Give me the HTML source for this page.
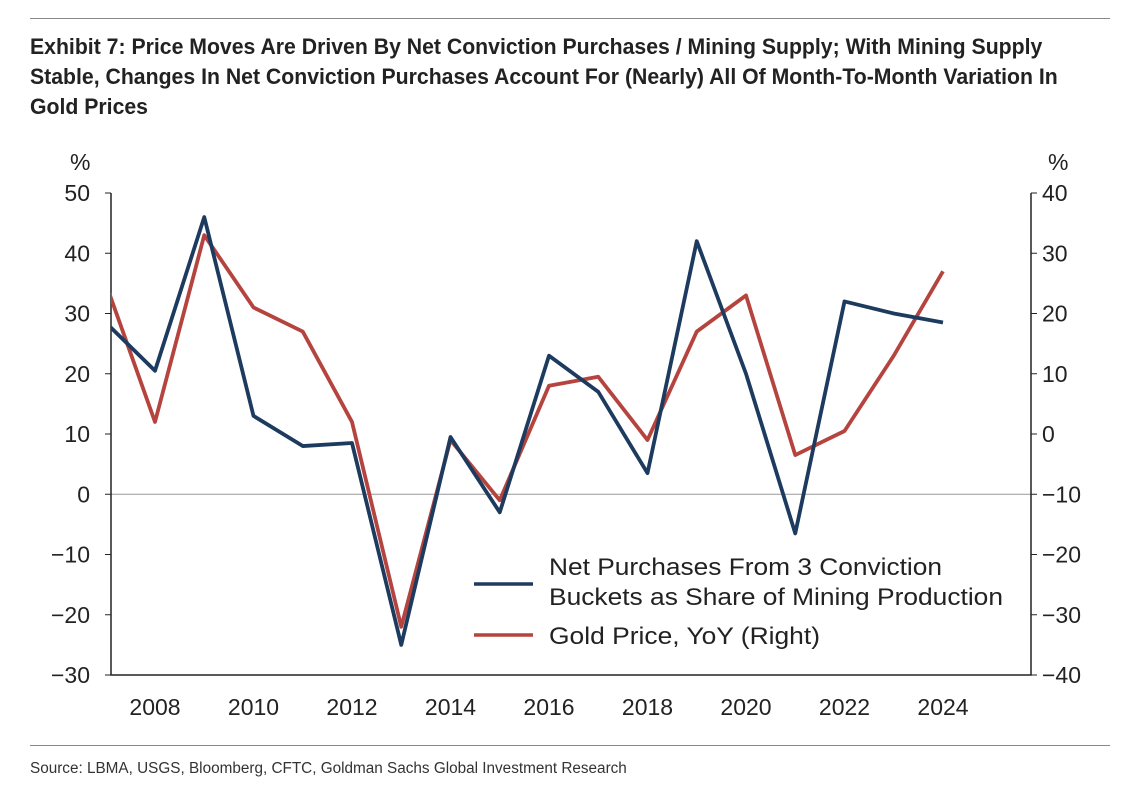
<!DOCTYPE html>
<html><head><meta charset="utf-8"><style>
body{margin:0;background:#fff;width:1138px;height:794px;overflow:hidden;font-family:"Liberation Sans",sans-serif}
#title{position:absolute;left:30px;top:32px;font-weight:bold;font-size:22px;line-height:30px;color:#222;white-space:nowrap;transform:scaleX(0.965);transform-origin:left}
#src{position:absolute;left:30px;top:760px;font-size:15.3px;color:#333;white-space:nowrap}
.rule{position:absolute;left:30px;width:1080px;height:1px;background:#888}
</style></head><body>
<div class="rule" style="top:18px"></div>
<div id="title">Exhibit 7: Price Moves Are Driven By Net Conviction Purchases / Mining Supply; With Mining Supply<br>Stable, Changes In Net Conviction Purchases Account For (Nearly) All Of Month-To-Month Variation In<br>Gold Prices</div>
<svg id="chart" width="1138" height="794" style="position:absolute;left:0;top:0"></svg>
<div class="rule" style="top:745px"></div>
<div id="src">Source: LBMA, USGS, Bloomberg, CFTC, Goldman Sachs Global Investment Research</div>
<script>
const years=[2007,2008,2009,2010,2011,2012,2013,2014,2015,2016,2017,2018,2019,2020,2021,2022,2023,2024];
const netPurchases=[28.5,20.5,46,13,8,8.5,-25,9.5,-3,23,17,3.5,42,20,-6.5,32,30,28.5];
const goldYoY=[25,2,33,21,17,2,-32,-1,-11,8,9.5,-1,17,23,-3.5,0.5,13,27];
const leftTicks=[50,40,30,20,10,0,-10,-20,-30];
const rightTicks=[40,30,20,10,0,-10,-20,-30,-40];
const xTicks=[2008,2010,2012,2014,2016,2018,2020,2022,2024];
const L=111,R=1031,T=193,B=675;
const x=y=>155+(y-2008)*49.25;
const yl=v=>T+(50-v)*(B-T)/80;
const yr=v=>T+(40-v)*(B-T)/80;
const svg=document.getElementById('chart');const NS='http://www.w3.org/2000/svg';
function el(t,a,p){const e=document.createElementNS(NS,t);for(const k in a)e.setAttribute(k,a[k]);(p||svg).appendChild(e);return e;}
const defs=el('defs',{});const cp=el('clipPath',{id:'c'},defs);el('rect',{x:L,y:0,width:R-L,height:794},cp);
let e;
e=el('line',{x1:L,x2:R,y1:yl(0),y2:yl(0),stroke:'#999','stroke-width':1});

e=el('path',{d:`M${L} ${T}V${B}H${R}V${T}`,fill:'none',stroke:'#222','stroke-width':1.5});

leftTicks.forEach(v=>{el('line',{x1:L-6,x2:L,y1:yl(v),y2:yl(v),stroke:'#222'});
 e=el('text',{x:L-21,y:yl(v)+8,'text-anchor':'end','font-size':23,fill:'#222'});e.textContent=v<0?'\u2212'+(-v):v;
 });
rightTicks.forEach(v=>{el('line',{x1:R,x2:R+6,y1:yr(v),y2:yr(v),stroke:'#222'});
 e=el('text',{x:R+11,y:yr(v)+8,'font-size':23,fill:'#222'});e.textContent=v<0?'\u2212'+(-v):v;
 });
xTicks.forEach(v=>{e=el('text',{x:x(v),y:715,'text-anchor':'middle','font-size':23,fill:'#222'});e.textContent=v;
 });
e=el('text',{x:70,y:170,'font-size':23,fill:'#222'});e.textContent='%';
e=el('text',{x:1048,y:170,'font-size':23,fill:'#222'});e.textContent='%';
e=el('polyline',{points:goldYoY.map((v,i)=>x(years[i])+','+yr(v)).join(' '),fill:'none',stroke:'#b5443f','stroke-width':3.8,'clip-path':'url(#c)','stroke-linejoin':'round'});

e=el('polyline',{points:netPurchases.map((v,i)=>x(years[i])+','+yl(v)).join(' '),fill:'none',stroke:'#1d3a5f','stroke-width':3.8,'clip-path':'url(#c)','stroke-linejoin':'round'});

e=el('line',{x1:474,x2:533,y1:584,y2:584,stroke:'#1d3a5f','stroke-width':3.5});
e=el('text',{x:549,y:575,'font-size':24,fill:'#222',textLength:393,lengthAdjust:'spacingAndGlyphs'});e.textContent='Net Purchases From 3 Conviction';
e=el('text',{x:549,y:605,'font-size':24,fill:'#222',textLength:454,lengthAdjust:'spacingAndGlyphs'});e.textContent='Buckets as Share of Mining Production';
e=el('line',{x1:474,x2:533,y1:635,y2:635,stroke:'#b5443f','stroke-width':3.5});
e=el('text',{x:549,y:644,'font-size':24,fill:'#222',textLength:271,lengthAdjust:'spacingAndGlyphs'});e.textContent='Gold Price, YoY (Right)';
</script>
</body></html>
